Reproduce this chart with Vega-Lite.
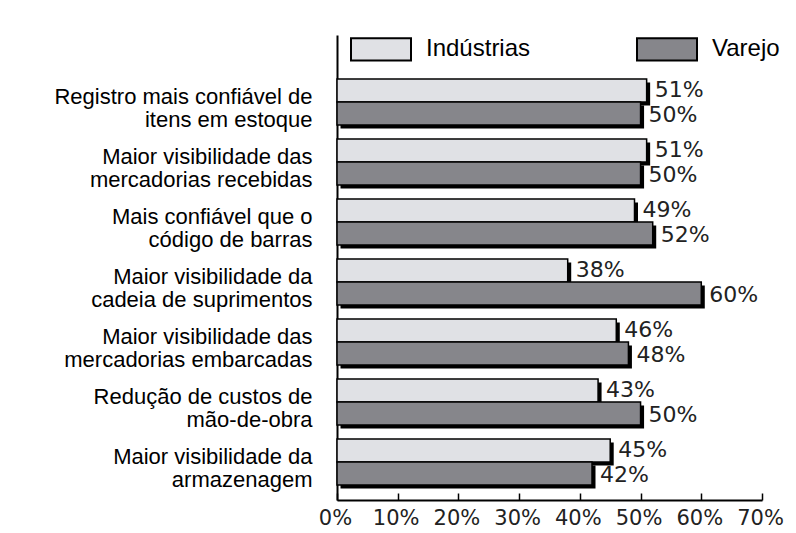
{
  "$schema": "https://vega.github.io/schema/vega-lite/v6.json",
  "autosize": "none",
  "width": 425,
  "height": 465,
  "padding": {"left": 337, "top": 35, "right": 34, "bottom": 33},
  "background": "white",
  "config": {
    "view": {"stroke": null},
    "axisY": {
      "title": null, "ticks": false, "domainColor": "black", "domainWidth": 2,
      "labelFont": "Liberation Sans", "labelFontSize": 22, "labelColor": "black",
      "labelPadding": 25, "labelLimit": 0, "labelLineHeight": 23, "labelOffset": -5,
      "labelExpr": "split(datum.label, '|')"
    },
    "axisX": {
      "title": null, "grid": false, "domainColor": "black", "domainWidth": 2,
      "tickColor": "black", "tickWidth": 1.5, "tickSize": -7,
      "labelFont": "DejaVu Sans", "labelFontSize": 21, "labelColor": "#222",
      "labelPadding": 14, "labelFlush": false, "labelOffset": -2
    },
    "legend": {
      "orient": "none", "legendX": 13, "legendY": -17, "direction": "horizontal",
      "title": null, "labelFont": "Liberation Sans", "labelFontSize": 24, "labelColor": "black",
      "symbolType": "M-1,-0.37H1V0.37H-1Z", "symbolSize": 3600,
      "symbolStrokeColor": "black", "symbolStrokeWidth": 2,
      "labelOffset": 14, "columnPadding": 102, "padding": 0, "labelLimit": 0
    }
  },
  "data": {"values": [
    {"cat": "Registro mais confiável de|itens em estoque", "series": "Indústrias", "value": 0.51},
    {"cat": "Registro mais confiável de|itens em estoque", "series": "Varejo", "value": 0.50},
    {"cat": "Maior visibilidade das|mercadorias recebidas", "series": "Indústrias", "value": 0.51},
    {"cat": "Maior visibilidade das|mercadorias recebidas", "series": "Varejo", "value": 0.50},
    {"cat": "Mais confiável que o|código de barras", "series": "Indústrias", "value": 0.49},
    {"cat": "Mais confiável que o|código de barras", "series": "Varejo", "value": 0.52},
    {"cat": "Maior visibilidade da|cadeia de suprimentos", "series": "Indústrias", "value": 0.38},
    {"cat": "Maior visibilidade da|cadeia de suprimentos", "series": "Varejo", "value": 0.60},
    {"cat": "Maior visibilidade das|mercadorias embarcadas", "series": "Indústrias", "value": 0.46},
    {"cat": "Maior visibilidade das|mercadorias embarcadas", "series": "Varejo", "value": 0.48},
    {"cat": "Redução de custos de|mão-de-obra", "series": "Indústrias", "value": 0.43},
    {"cat": "Redução de custos de|mão-de-obra", "series": "Varejo", "value": 0.50},
    {"cat": "Maior visibilidade da|armazenagem", "series": "Indústrias", "value": 0.45},
    {"cat": "Maior visibilidade da|armazenagem", "series": "Varejo", "value": 0.42}
  ]},
  "encoding": {
    "y": {"field": "cat", "type": "nominal", "sort": null,
          "scale": {"paddingInner": 0, "paddingOuter": 0.375, "align": 0.82}},
    "x": {"field": "value", "type": "quantitative",
          "scale": {"domain": [0, 0.7], "nice": false},
          "axis": {"values": [0, 0.1, 0.2, 0.3, 0.4, 0.5, 0.6, 0.7], "format": ".0%"}}
  },
  "layer": [
    {"transform": [{"filter": "datum.series === 'Indústrias'"}],
     "mark": {"type": "bar", "height": 23, "yOffset": -8, "xOffset": 3.5, "x2Offset": 3.5, "fill": "black"}},
    {"transform": [{"filter": "datum.series === 'Indústrias'"}],
     "mark": {"type": "bar", "height": 23, "yOffset": -11.5, "stroke": "black", "strokeWidth": 1.5},
     "encoding": {"color": {"field": "series", "type": "nominal",
        "scale": {"domain": ["Indústrias", "Varejo"], "range": ["#e0e1e5", "#86868b"]}}}},
    {"transform": [{"filter": "datum.series === 'Varejo'"}],
     "mark": {"type": "bar", "height": 23, "yOffset": 15, "xOffset": 3.5, "x2Offset": 3.5, "fill": "black"}},
    {"transform": [{"filter": "datum.series === 'Varejo'"}],
     "mark": {"type": "bar", "height": 23, "yOffset": 11.5, "stroke": "black", "strokeWidth": 1.5},
     "encoding": {"color": {"field": "series", "type": "nominal"}}},
    {"transform": [{"filter": "datum.series === 'Indústrias'"}],
     "mark": {"type": "text", "align": "left", "baseline": "middle", "dx": 8, "yOffset": -11.5,
              "font": "DejaVu Sans", "fontSize": 22, "fill": "#222"},
     "encoding": {"text": {"field": "value", "type": "quantitative", "format": ".0%"}}},
    {"transform": [{"filter": "datum.series === 'Varejo'"}],
     "mark": {"type": "text", "align": "left", "baseline": "middle", "dx": 8, "yOffset": 13,
              "font": "DejaVu Sans", "fontSize": 22, "fill": "#222"},
     "encoding": {"text": {"field": "value", "type": "quantitative", "format": ".0%"}}}
  ]
}
